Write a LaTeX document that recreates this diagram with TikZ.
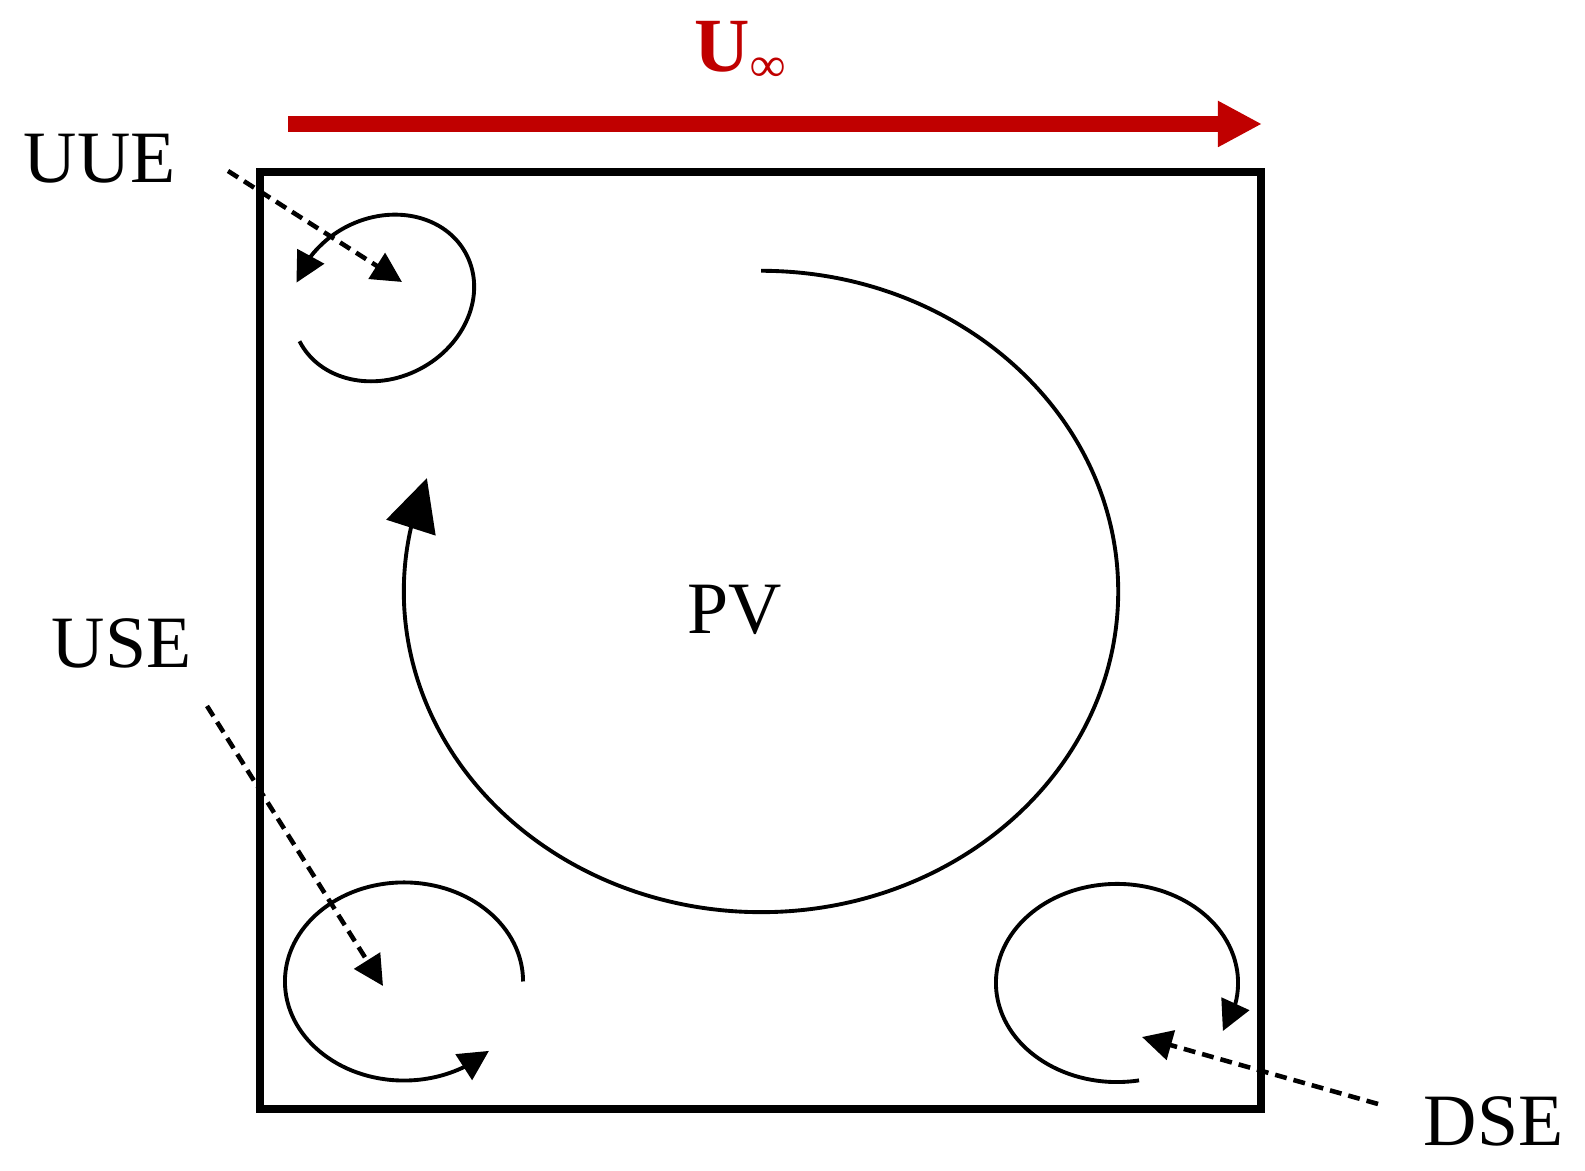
\documentclass[tikz,border=0pt]{standalone}
\usepackage{fontspec}
\setmainfont{Liberation Serif}
\usetikzlibrary{arrows.meta,bending}
\definecolor{flowred}{HTML}{C00000}
\begin{document}
\begin{tikzpicture}[x=0.01cm,y=0.01cm,
  lbl/.style={anchor=base west,inner sep=0pt,font=\fontsize{21}{25}\selectfont},
  vort/.style={line width=1.1pt,-{Triangle[length=0.3cm,width=0.3cm,flex]}},
  pvarrow/.style={line width=1.1pt,-{Triangle[length=0.52cm,width=0.51cm,flex]}},
  lead/.style={line width=1.3pt,dash pattern=on 3.4pt off 2pt,-{Triangle[length=0.3cm,width=0.3cm]}},
  frame/.style={draw,line width=2.3pt,inner sep=0pt,minimum width=10.01cm,minimum height=9.37cm},
  flow/.style={line width=4.3pt,flowred,-{Triangle[length=0.44cm,width=0.43cm]}}]
\useasboundingbox (0,0) rectangle (1585,1171);

% domain box
\node[frame] (box) at (760.5,530.5) {};

% free stream
\coordinate (flow-a) at (288,1047);
\coordinate (flow-b) at (1262,1047);
\draw[flow] (flow-a) -- (flow-b);
\node[anchor=base west,inner sep=0pt,text=flowred,font=\fontsize{21.8}{25}\selectfont\bfseries] (uinf) at (694,1099)
  {U\raisebox{-2.8pt}{\fontsize{14}{14}\selectfont ∞}};

% labels
\node[lbl] (uue) at (23,988) {UUE};
\node[lbl] (use) at (51,503) {USE};
\node[lbl] (dse) at (1423,25) {DSE};
\node[lbl] (pv) at (687,537) {PV};

% vortex centres
\coordinate (pvc) at (761,579.5);
\coordinate (usec) at (404,189.5);
\coordinate (dsec) at (1117,188);

% primary vortex
\draw[pvarrow] ([shift={(90:3.57cm and 3.205cm)}]pvc)
  arc[start angle=90,end angle=-200.7,x radius=3.57cm,y radius=3.205cm];

% upstream upper eddy (tilted ellipse)
\begin{scope}[shift={(383,873)},rotate=28]
  \coordinate (uuec) at (0,0);
  \draw[vort] (179.3:0.94cm and 0.80cm)
    arc[start angle=179.3,end angle=497.4,x radius=0.94cm,y radius=0.80cm];
\end{scope}

% upstream secondary eddy
\draw[vort] ([shift={(0:1.19cm and 0.99cm)}]usec)
  arc[start angle=0,end angle=315.5,x radius=1.19cm,y radius=0.99cm];

% downstream secondary eddy
\draw[vort] ([shift={(280.5:1.21cm and 0.99cm)}]dsec)
  arc[start angle=280.5,end angle=-29,x radius=1.21cm,y radius=0.99cm];

% leaders
\coordinate (uue-a) at (228,1000);
\coordinate (uue-b) at (402,889);
\coordinate (use-a) at (207,465);
\coordinate (use-b) at (383,185);
\coordinate (dse-a) at (1378,67);
\coordinate (dse-b) at (1142,134);
\draw[lead] (uue-a) -- (uue-b);
\draw[lead] (use-a) -- (use-b);
\draw[lead] (dse-a) -- (dse-b);
\end{tikzpicture}
\end{document}
